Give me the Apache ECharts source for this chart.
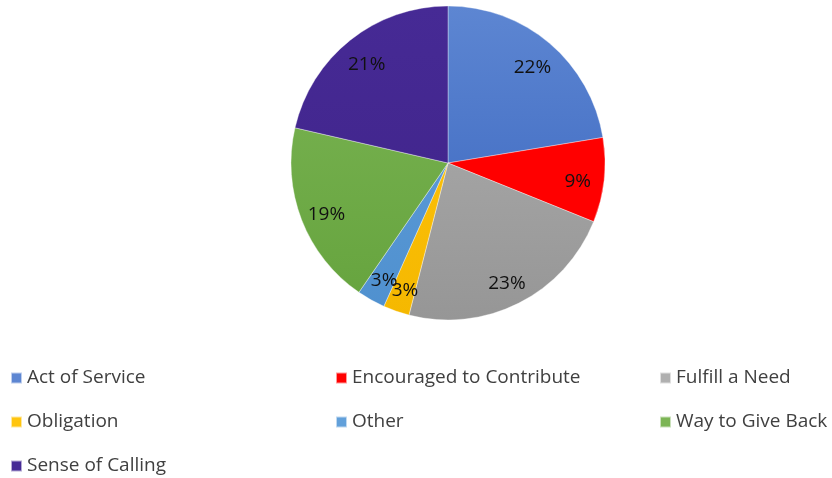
<!DOCTYPE html>
<html><head><meta charset="utf-8">
<script src="https://cdn.jsdelivr.net/npm/echarts@6/dist/echarts.min.js"></script>
<style>html,body{margin:0;padding:0;background:#fff}#c{width:832px;height:478px}</style>
</head><body><div id="c"></div>
<script>
const categories = ['Act of Service','Encouraged to Contribute','Fulfill a Need','Obligation','Other','Way to Give Back','Sense of Calling'];
const values = [22.4, 8.7, 22.9, 2.7, 2.9, 19.0, 21.4];
const colorsTop = ['#5d86d2','#ff0000','#b0b0b0','#ffc50f','#62a0da','#7cb555','#462a95'];
const colorsBottom = ['#3763bd','#ff0000','#969696','#f5b800','#4f90cf','#65a33d','#3f2388'];

const CX = 448, CY = 163, R = 157;
function grad(i){
  return {type:'linear', x:0, y:CY-R, x2:0, y2:CY+R, global:true,
    colorStops:[{offset:0,color:colorsTop[i]},{offset:1,color:colorsBottom[i]}]};
}
const pieData = categories.map((n,i)=>({name:n, value:values[i], itemStyle:{color:grad(i)}}));
const labelData = categories.map((n,i)=>({name:n, value:values[i]}));
const legendFont = {fontFamily:'Open Sans', fontSize:19, color:'#404040', lineHeight:22};
function legend(left, names){
  return {orient:'vertical', left:left, top:367, itemWidth:11, itemHeight:11, itemGap:22,
    icon:'rect', data:names, textStyle:legendFont, selectedMode:false, padding:0};
}
const chart = echarts.init(document.getElementById('c'));
chart.setOption({
  animation:false,
  color: colorsBottom,
  legend:[
    legend(10, [categories[0], categories[3], categories[6]]),
    legend(335, [categories[1], categories[4]]),
    legend(659, [categories[2], categories[5]])
  ],
  series:[
    {type:'pie', center:[CX,CY], radius:[0,R], startAngle:90, clockwise:true,
      label:{show:false}, labelLine:{show:false}, data:pieData,
      itemStyle:{borderWidth:0.6, borderColor:'rgba(255,255,255,0.6)'}},
    {type:'pie', center:[CX,CY], radius:[98,R], startAngle:90, clockwise:true, silent:true,
      avoidLabelOverlap:false, percentPrecision:0,
      itemStyle:{color:'rgba(0,0,0,0)'}, legendHoverLink:false,
      labelLayout:{hideOverlap:false},
      label:{show:true, position:'inside', formatter:'{d}%', fontFamily:'Open Sans', fontSize:19, color:'#111', offset:[0,4]},
      labelLine:{show:false}, data:labelData}
  ]
});
</script></body></html>
